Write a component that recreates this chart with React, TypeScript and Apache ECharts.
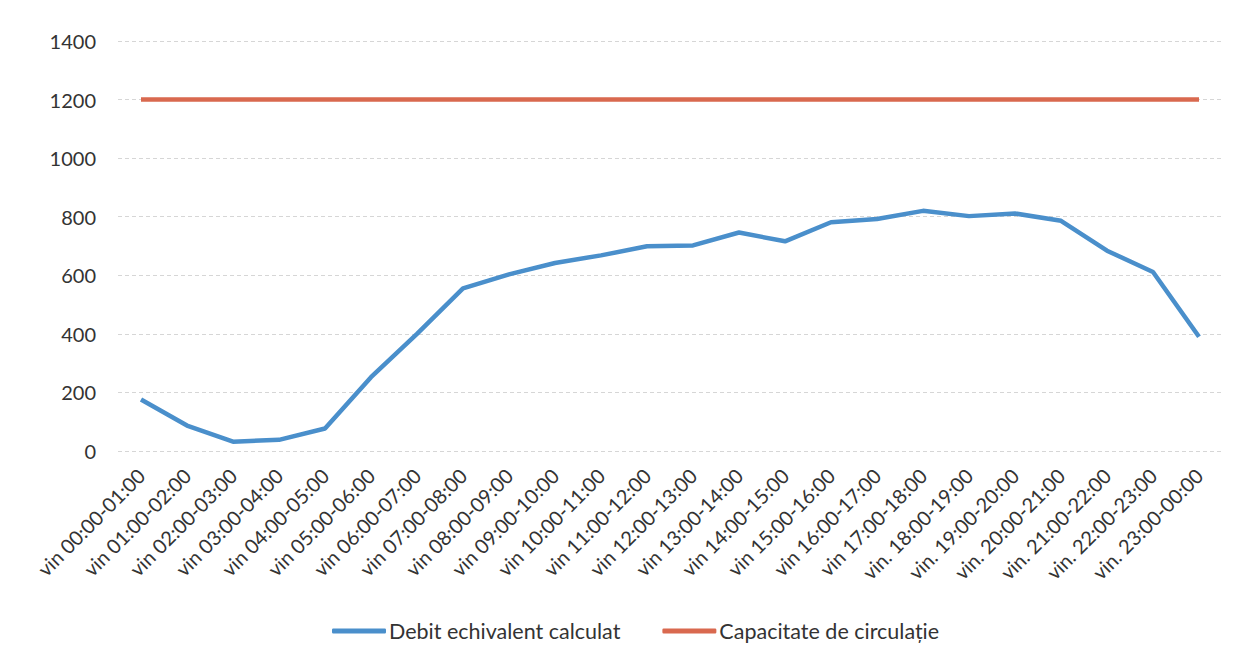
import React, { useEffect, useRef } from "react";
import * as echarts from "echarts";

const categories = [
  "vin 00:00-01:00", "vin 01:00-02:00", "vin 02:00-03:00", "vin 03:00-04:00",
  "vin 04:00-05:00", "vin 05:00-06:00", "vin 06:00-07:00", "vin 07:00-08:00",
  "vin 08:00-09:00", "vin 09:00-10:00", "vin 10:00-11:00", "vin 11:00-12:00",
  "vin 12:00-13:00", "vin 13:00-14:00", "vin 14:00-15:00", "vin 15:00-16:00",
  "vin 16:00-17:00", "vin 17:00-18:00", "vin. 18:00-19:00", "vin. 19:00-20:00",
  "vin. 20:00-21:00", "vin. 21:00-22:00", "vin. 22:00-23:00", "vin. 23:00-00:00",
];

const debitEchivalent = [
  176, 87, 32, 38, 77, 252, 400, 555, 603, 642, 668, 699,
  702, 746, 716, 781, 792, 820, 802, 811, 786, 684, 611, 390,
];

const capacitate = [
  1200, 1200, 1200, 1200, 1200, 1200, 1200, 1200, 1200, 1200, 1200, 1200,
  1200, 1200, 1200, 1200, 1200, 1200, 1200, 1200, 1200, 1200, 1200, 1200,
];

const FONT = "Lato, 'Open Sans', sans-serif";

export default function App() {
  const ref = useRef<HTMLDivElement>(null);

  useEffect(() => {
    if (!ref.current) return;
    const chart = echarts.init(ref.current, null, { renderer: "svg" });
    chart.setOption({
      animation: false,
      backgroundColor: "#ffffff",
      textStyle: { fontFamily: FONT },
      grid: { left: 118, right: 17, top: 41, bottom: 207, containLabel: false },
      legend: {
        top: 615,
        left: 327,
        itemGap: 42,
        itemWidth: 54,
        itemHeight: 5,
        icon: "roundRect",
        textStyle: { fontFamily: FONT, fontSize: 21.5, color: "#333333", padding: [0, 0, 0, -2] },
        data: ["Debit echivalent calculat", "Capacitate de circulație"],
      },
      xAxis: {
        type: "category",
        data: categories,
        boundaryGap: true,
        axisLine: { show: false },
        axisTick: { show: false },
        axisLabel: {
          rotate: 45,
          interval: 0,
          fontSize: 20,
          color: "#333333",
          fontFamily: FONT,
          margin: 21,
        },
      },
      yAxis: {
        type: "value",
        min: 0,
        max: 1400,
        interval: 200,
        axisLine: { show: false },
        axisTick: { show: false },
        axisLabel: {
          fontSize: 20,
          color: "#333333",
          fontFamily: FONT,
          margin: 22,
          formatter: (v: number) => String(v),
        },
        splitLine: { lineStyle: { color: "#d6d6d6", type: [4, 3], width: 1 } },
      },
      series: [
        {
          name: "Debit echivalent calculat",
          type: "line",
          data: debitEchivalent,
          symbol: "none",
          lineStyle: { color: "#4a8fcb", width: 4.5 },
          itemStyle: { color: "#4a8fcb" },
        },
        {
          name: "Capacitate de circulație",
          type: "line",
          data: capacitate,
          symbol: "none",
          lineStyle: { color: "#d9694f", width: 4.5 },
          itemStyle: { color: "#d9694f" },
        },
      ],
    });
    return () => chart.dispose();
  }, []);

  return <div ref={ref} style={{ width: 1239, height: 658, position: "absolute", left: 0, top: 0 }} />;
}
